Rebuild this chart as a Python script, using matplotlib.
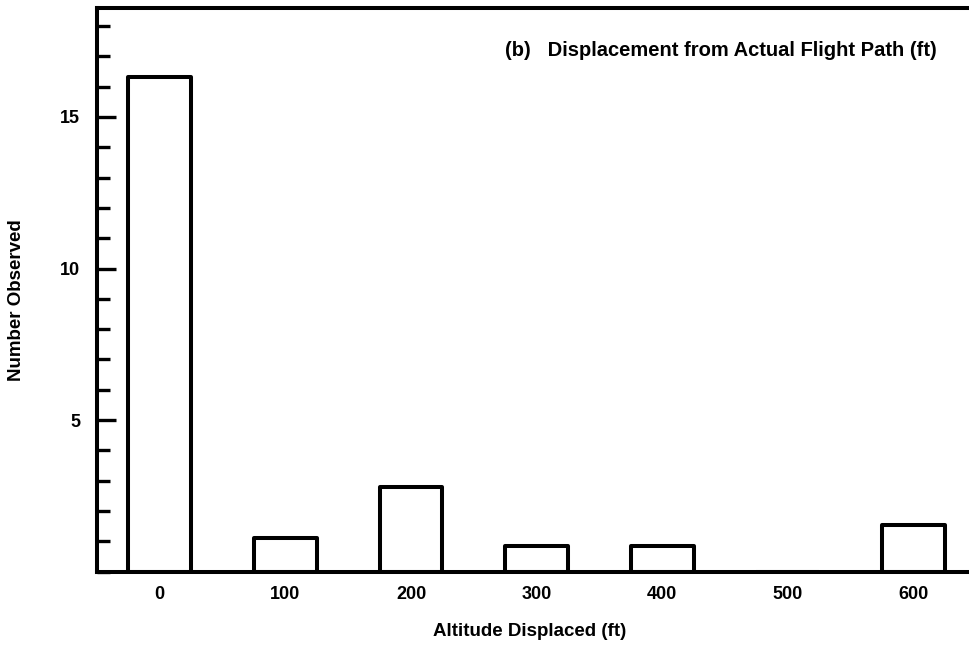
import numpy as np
import matplotlib
matplotlib.use("Agg")
import matplotlib.pyplot as plt
from matplotlib.ticker import MultipleLocator

# altitude displaced (ft) vs number observed
altitude = [0, 100, 200, 300, 400, 500, 600]
counts = [16.3, 1.1, 2.8, 0.85, 0.85, 0.0, 1.55]
yticks = [5, 10, 15]

plt.rcParams['font.family'] = ['Liberation Sans', 'DejaVu Sans']
plt.rcParams['font.weight'] = 'bold'

fig = plt.figure(figsize=(9.7, 6.46), dpi=100)
ax = fig.add_axes([0.1, 0.115, 0.9, 0.873])

ax.bar(altitude, counts, width=50, facecolor='white', edgecolor='black',
       linewidth=2.9, joinstyle='round')

ax.set_xlim(-50, 645)
ax.set_ylim(0, 18.6)

ax.set_xticks(altitude)
ax.set_xticklabels([str(a) for a in altitude], fontsize=13, fontweight='bold')
ax.tick_params(axis='x', length=0, pad=10)

ax.set_yticks(yticks)
ax.set_yticklabels([str(t) for t in yticks], fontsize=13, fontweight='bold')
ax.yaxis.set_minor_locator(MultipleLocator(1))
ax.tick_params(axis='y', which='major', direction='in', length=14, width=2.4, pad=12)
ax.tick_params(axis='y', which='minor', direction='in', length=9, width=2.4)

for side in ['left', 'bottom', 'top']:
    ax.spines[side].set_linewidth(2.9)
ax.spines['right'].set_visible(False)

ax.set_xlabel('Altitude Displaced (ft)', fontsize=13.5, fontweight='bold')
ax.xaxis.label.set_va('center')
ax.xaxis.set_label_coords(0.496, -0.106)

ax.set_ylabel('Number Observed', fontsize=13.5, fontweight='bold')
ax.yaxis.label.set_va('center')
ax.yaxis.set_label_coords(-0.092, 0.482)

ax.text(0.962, 0.925, '(b)   Displacement from Actual Flight Path (ft)',
        transform=ax.transAxes, ha='right', va='center',
        fontsize=14.5, fontweight='bold')

fig.savefig('out.png', dpi=100)
